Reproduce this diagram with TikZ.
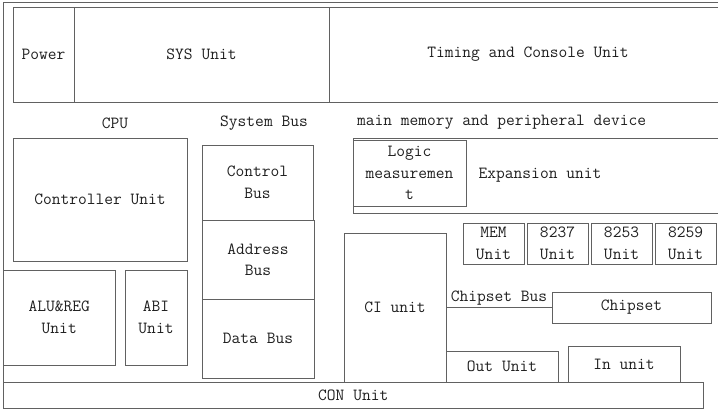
\documentclass[tikz,border=0pt]{standalone}
\usepackage{fontspec}
\begin{document}
\begin{tikzpicture}[x=1pt,y=-1pt,
  txt/.style={font=\ttfamily\fontsize{17}{21.5}\selectfont, text=black!88},
  box/.style={txt, draw=black!62, line width=0.9pt, inner sep=0pt, align=center},
  lbl/.style={txt, inner sep=0pt}]
\useasboundingbox (0,0) rectangle (718,408);
\clip (0,0) rectangle (718,408);
\newcommand\bx[6]{\node[box, minimum width={#4pt-#2pt}, minimum height={#5pt-#3pt}] (#1) at ({(#2+#4)/2},{(#3+#5)/2}) {#6};}
% outer frame
\draw[draw=black!62, line width=0.9pt] (3.5,2) rectangle (730,430);
% top row
\bx{power}{13}{7}{74}{102}{Power}
\bx{sys}{74}{7}{329}{102}{SYS Unit}
\bx{timing}{329}{7}{727}{102}{Timing and Console Unit}
% labels
\node[lbl] (cpu) at (115,123) {CPU};
\node[lbl] (sysbus) at (264,123) {System Bus};
\node[lbl, anchor=west] (mainmem) at (357,122) {main memory and peripheral device};
% CPU
\bx{ctrl}{13}{138}{187}{261}{Controller Unit}
\bx{alu}{3.5}{270}{115}{365}{ALU\&REG\\Unit}
\bx{abi}{125}{270}{187}{365}{ABI\\Unit}
% system bus
\bx{cbus}{202}{145}{313}{220}{Control\\Bus}
\bx{abus}{202}{220}{314}{299}{Address\\Bus}
\bx{dbus}{202}{299}{314}{378}{Data Bus}
% main memory
\bx{exp}{353}{138}{727}{213}{Expansion unit}
\bx{logic}{353}{140}{466}{206}{Logic\\measuremen\\t}
\bx{mem}{463}{223}{524}{264}{MEM\\Unit}
\bx{u8237}{527}{223}{588}{264}{8237\\Unit}
\bx{u8253}{591}{223}{652}{264}{8253\\Unit}
\bx{u8259}{655}{223}{716}{264}{8259\\Unit}
\bx{ci}{344}{233}{446}{382}{CI unit}
\bx{chipset}{552}{292}{711}{323}{Chipset}
\bx{out}{446}{351}{558}{382}{Out Unit}
\bx{in}{568}{346}{680}{382}{In unit}
\bx{con}{3.5}{382}{703}{408}{CON Unit}
\draw[draw=black!62, line width=0.9pt] (ci.east) -- node[lbl, above=2pt] {Chipset Bus} (chipset.west);
\end{tikzpicture}
\end{document}
